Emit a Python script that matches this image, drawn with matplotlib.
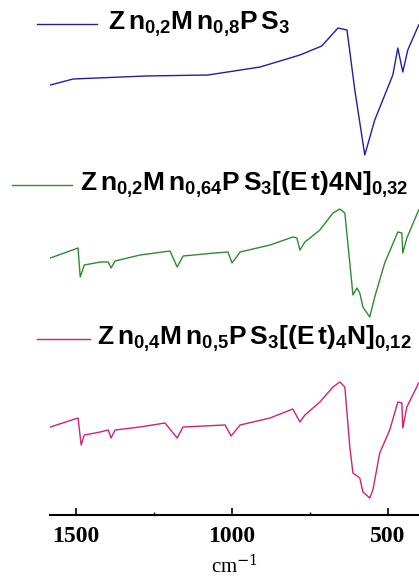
import matplotlib
matplotlib.use("Agg")
import matplotlib.pyplot as plt
from matplotlib.lines import Line2D

plt.rcParams['mathtext.fontset'] = 'custom'
plt.rcParams['mathtext.rm'] = 'Liberation Sans:bold'
plt.rcParams['mathtext.it'] = 'Liberation Sans:bold'
plt.rcParams['mathtext.bf'] = 'Liberation Sans:bold'

# IR spectra, wavenumber (cm-1) and transmittance (a.u., offset already applied)
wn_blue = [1583, 1510, 1276, 1077, 910, 782, 712, 660, 631, 606, 574, 542, 484, 468, 452, 436, 401]
tr_blue = [43.0, 43.6, 43.9, 44.0, 44.8, 46.0, 46.9, 48.7, 48.5, 42.5, 36.0, 39.5, 44.0, 46.7, 44.3, 46.5, 49.0]

wn_green = [1583, 1494, 1487, 1474, 1439, 1423, 1397, 1388, 1375, 1295, 1199, 1176, 1157, 1055,
            1013, 1000, 974, 878, 805, 792, 782, 766, 718, 676, 654, 638, 622, 612, 599, 590,
            580, 558, 542, 510, 468, 455, 452, 439, 401]
tr_green = [25.7, 26.7, 23.8, 25.0, 25.2, 25.3, 25.3, 24.7, 25.4, 26.0, 26.4, 24.8, 25.9, 26.2,
            26.3, 25.2, 26.3, 27.0, 27.8, 27.7, 26.5, 27.3, 28.5, 30.2, 30.6, 30.2, 25.2, 22.0,
            22.7, 22.2, 20.8, 19.8, 21.8, 25.2, 28.3, 28.2, 26.2, 27.7, 30.5]

wn_pink = [1583, 1494, 1484, 1474, 1439, 1423, 1397, 1388, 1375, 1295, 1215, 1176, 1157, 1022,
           1003, 974, 878, 805, 782, 766, 718, 676, 654, 638, 622, 612, 590, 580, 558, 548,
           526, 494, 468, 455, 452, 439, 401]
tr_pink = [8.8, 9.7, 7.0, 8.0, 8.2, 8.3, 8.5, 7.7, 8.5, 8.8, 9.2, 7.7, 8.8, 9.0, 7.9, 9.0, 9.7,
           10.6, 9.3, 10.0, 11.3, 12.8, 13.3, 12.8, 6.8, 4.2, 3.7, 2.3, 1.7, 2.5, 6.2, 8.5,
           11.3, 11.2, 8.7, 10.8, 13.2]

labels = [r'$\mathrm{Z\,n_{0{,}2}M\,n_{0{,}8}P\,S_3}$',
          r'$\mathrm{Z\,n_{0{,}2}M\,n_{0{,}64}P\,S_3[(E\,t)4N]_{0{,}32}}$',
          r'$\mathrm{Z\,n_{0{,}4}M\,n_{0{,}5}P\,S_3[(E\,t)_4N]_{0{,}12}}$']
colors = ['#1f1fa8', '#2e8b2e', '#d0207a']
tick_vals = [1500, 1000, 500]

fig = plt.figure(figsize=(4.19, 5.8), dpi=100)
ax = fig.add_axes([50 / 419, 65 / 580, 369 / 419, 515 / 580])

ax.plot(wn_blue, tr_blue, color=colors[0], lw=1.0)
ax.plot(wn_green, tr_green, color=colors[1], lw=1.0)
ax.plot(wn_pink, tr_pink, color=colors[2], lw=1.0)

ax.set_xlim(1584, 400)
ax.set_ylim(0, 51.5)
for s in ['left', 'right', 'top']:
    ax.spines[s].set_visible(False)
ax.spines['bottom'].set_linewidth(1.5)
ax.set_yticks([])
ax.set_xticks(tick_vals)
ax.set_xticks([1250, 750], minor=True)
ax.tick_params(axis='x', which='major', direction='in', length=5, width=1.2, pad=8)
ax.tick_params(axis='x', which='minor', direction='in', length=2.5, width=1.0)
for lab in ax.get_xticklabels():
    lab.set_fontfamily('Liberation Serif')
    lab.set_fontweight('bold')
    lab.set_fontsize(17)
ax.set_xlabel(r'cm$^{-1}$', family='Liberation Serif', fontsize=15, labelpad=6)
ax.xaxis.label.set_math_fontfamily('dejavuserif')

# legend entries
leg_pos = [(37, 97, 24, 108), (12, 72, 185, 80), (37, 90, 339, 97)]
for (x0, x1, y, xt), c, lab in zip(leg_pos, colors, labels):
    fig.add_artist(Line2D([x0 / 419, x1 / 419], [1 - y / 580, 1 - y / 580],
                          color=c, lw=1.0, transform=fig.transFigure))
    fig.text(xt / 419, 1 - y / 580, lab, fontsize=19, va='center', ha='left')

fig.savefig('out.png', dpi=100)
